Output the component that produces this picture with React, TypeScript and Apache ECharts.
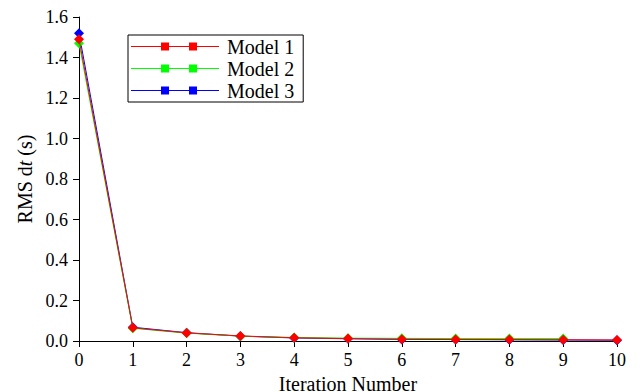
import React, { useEffect, useRef } from "react";
import * as echarts from "echarts";

const iterations = [0, 1, 2, 3, 4, 5, 6, 7, 8, 9, 10];
const model1 = [1.49, 0.065, 0.04, 0.025, 0.016, 0.012, 0.009, 0.008, 0.007, 0.006, 0.005];
const model2 = [1.47, 0.063, 0.039, 0.024, 0.017, 0.014, 0.013, 0.012, 0.012, 0.012, null];
const model3 = [1.52, 0.068, 0.041, 0.024, 0.015, 0.011, 0.008, 0.007, 0.006, 0.005, 0.004];
const seriesNames = ["Model 1", "Model 2", "Model 3"];
const seriesColors = ["#ff0000", "#00ff00", "#0000ff"];

const FONT = "Liberation Serif";

export default function App() {
  const ref = useRef<HTMLDivElement>(null);
  useEffect(() => {
    document.body.style.margin = "0";
    if (!ref.current) return;
    const chart = echarts.init(ref.current, undefined, { renderer: "svg" });
    const data = [model1, model2, model3];
    const icon =
      "path://M0,3.5L88,3.5L88,4.5L0,4.5Z M30,0L38,0L38,8L30,8Z M58,0L66,0L66,8L58,8Z";
    chart.setOption({
      animation: false,
      backgroundColor: "#ffffff",
      textStyle: { fontFamily: FONT, color: "#000" },
      grid: { left: 79, right: 25, top: 17, bottom: 51, containLabel: false, outerBoundsMode: "none" },
      legend: {
        left: 128,
        top: 35,
        orient: "vertical",
        data: seriesNames,
        icon,
        itemWidth: 88,
        itemHeight: 8,
        itemGap: 1,
        padding: [1, 9, 1, 3],
        borderColor: "#000",
        borderWidth: 1,
        backgroundColor: "#fff",
        textStyle: { fontFamily: FONT, fontSize: 20, color: "#000", lineHeight: 21, padding: [0, 0, 0, 3] },
      },
      xAxis: {
        type: "value",
        min: 0,
        max: 10,
        interval: 1,
        name: "Iteration Number",
        nameLocation: "middle",
        nameGap: 31,
        nameTextStyle: { fontFamily: FONT, fontSize: 20, color: "#000" },
        axisLine: { show: true, lineStyle: { color: "#000", width: 1 } },
        axisTick: { show: true, inside: false, length: 6, lineStyle: { color: "#000" } },
        axisLabel: { fontFamily: FONT, fontSize: 18, color: "#000", margin: 10 },
        splitLine: { show: false },
      },
      yAxis: {
        type: "value",
        min: 0,
        max: 1.6,
        interval: 0.2,
        name: "{a|RMS d}{b|t}{a| (s)}",
        nameLocation: "middle",
        nameGap: 44,
        nameTextStyle: {
          fontFamily: FONT,
          fontSize: 20,
          color: "#000",
          rich: {
            a: { fontFamily: FONT, fontSize: 20, color: "#000" },
            b: { fontFamily: FONT, fontSize: 20, color: "#000", fontStyle: "italic" },
          },
        },
        axisLine: { show: true, lineStyle: { color: "#000", width: 1 } },
        axisTick: { show: true, inside: false, length: 6, lineStyle: { color: "#000" } },
        axisLabel: {
          fontFamily: FONT,
          fontSize: 18,
          color: "#000",
          margin: 11,
          formatter: (v: number) => v.toFixed(1),
        },
        splitLine: { show: false },
      },
      series: seriesNames.map((name, i) => ({
        name,
        type: "line",
        data: iterations.map((x, j) => [x, data[i][j]]),
        color: seriesColors[i],
        symbol: "diamond",
        symbolSize: 10,
        showSymbol: true,
        connectNulls: false,
        z: i === 0 ? 5 : 4 - i,
        lineStyle: { width: 1, color: seriesColors[i] },
        itemStyle: { color: seriesColors[i] },
      })),
    });
    return () => chart.dispose();
  }, []);
  return <div ref={ref} style={{ width: 642, height: 392 }} />;
}
